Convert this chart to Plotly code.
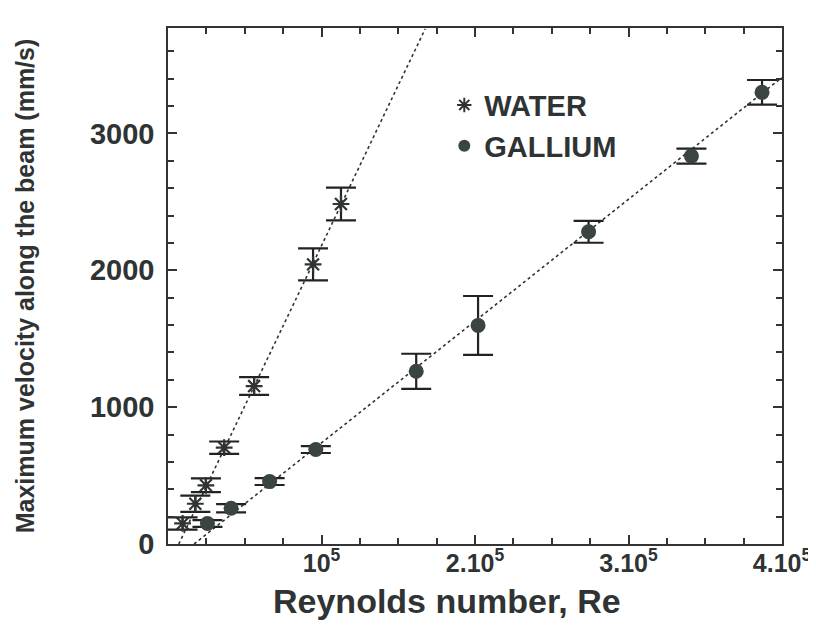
import plotly.graph_objects as go
import numpy as np

# ---- data ----
water_re = [9500, 17800, 24700, 36600, 56100, 94500, 112700]
water_v = [150, 294, 429, 704, 1154, 2043, 2484]
water_err = [45, 60, 50, 45, 65, 117, 120]

gallium_re = [25700, 41100, 66200, 96300, 161700, 202000, 274000, 341000, 387000]
gallium_v = [150, 261, 456, 690, 1262, 1597, 2281, 2834, 3300]
gallium_err = [25, 30, 25, 25, 128, 215, 80, 55, 90]

# linear fits drawn in the chart: v = slope * (Re - re0)
water_fit = {"slope": 0.02344, "re0": 7000}
gallium_fit = {"slope": 0.0089, "re0": 17000}

x_ticks = [1e5, 2e5, 3e5, 4e5]
x_ticktext = ["10<sup>5</sup>", "2.10<sup>5</sup>", "3.10<sup>5</sup>", "4.10<sup>5</sup>"]
y_ticks = [0, 1000, 2000, 3000]

X_RANGE = [0, 4e5]
Y_RANGE = [0, 3770]

FONT = "Liberation Sans, Arial, Helvetica, sans-serif"
INK = "#2f3333"

fig = go.Figure()

def fit_line(fit):
    xs = np.linspace(fit["re0"], X_RANGE[1], 400)
    ys = fit["slope"] * (xs - fit["re0"])
    mask = ys <= Y_RANGE[1]
    return xs[mask], ys[mask]

for fit in (water_fit, gallium_fit):
    xs, ys = fit_line(fit)
    fig.add_trace(go.Scatter(x=xs, y=ys, mode="lines", showlegend=False,
                             line=dict(color="#333", width=1.6, dash="dot"),
                             hoverinfo="skip"))

fig.add_trace(go.Scatter(
    x=water_re, y=water_v, mode="markers", name="<b>WATER</b>",
    marker=dict(symbol="asterisk-open", size=14, color=INK, line=dict(color=INK, width=2.2)),
    error_y=dict(type="data", array=water_err, visible=True, color="#222", thickness=2.2, width=15),
))
fig.add_trace(go.Scatter(
    x=gallium_re, y=gallium_v, mode="markers", name="<b>GALLIUM</b>",
    marker=dict(symbol="circle", size=15, color="#3a4443"),
    error_y=dict(type="data", array=gallium_err, visible=True, color="#222", thickness=2.2, width=15),
))

axis_common = dict(
    showgrid=False, zeroline=False, showline=True, linecolor="#333", linewidth=1.5,
    mirror="ticks", ticks="inside", ticklen=9, tickwidth=2, tickcolor="#333",
    automargin=False,
)

fig.update_xaxes(
    range=X_RANGE, tickvals=x_ticks, ticktext=[f"<b>{t}</b>" for t in x_ticktext],
    tickfont=dict(family=FONT, size=25, color=INK),
    minor=dict(dtick=25000, ticks="inside", ticklen=6, tickwidth=1.5, tickcolor="#333"),
    ticklabelstandoff=-4,
    **axis_common,
)
fig.update_yaxes(
    range=Y_RANGE, tickvals=y_ticks, ticktext=[f"<b>{v}</b>" for v in y_ticks],
    tickfont=dict(family=FONT, size=29, color=INK),
    minor=dict(dtick=200, ticks="inside", ticklen=6, tickwidth=1.5, tickcolor="#333"),
    title=dict(text="<b>Maximum velocity along the beam (mm/s)</b>",
               font=dict(family=FONT, size=25, color=INK), standoff=48),
    ticklabelstandoff=6,
    **axis_common,
)

fig.add_annotation(
    text="<b>Reynolds number, Re</b>", xref="paper", yref="paper",
    x=0.455, y=-0.11, xanchor="center", yanchor="middle", showarrow=False,
    font=dict(family=FONT, size=34, color=INK),
)

fig.update_layout(
    width=808, height=629,
    margin=dict(l=160, r=34, t=20, b=93),
    plot_bgcolor="white", paper_bgcolor="white",
    legend=dict(x=0.45, y=0.9, xanchor="left", yanchor="top",
                font=dict(family=FONT, size=29, color=INK),
                bgcolor="rgba(0,0,0,0)", itemsizing="constant", tracegroupgap=2,
                itemwidth=30),
    font=dict(family=FONT, color=INK),
)

fig.write_html("out.html")
